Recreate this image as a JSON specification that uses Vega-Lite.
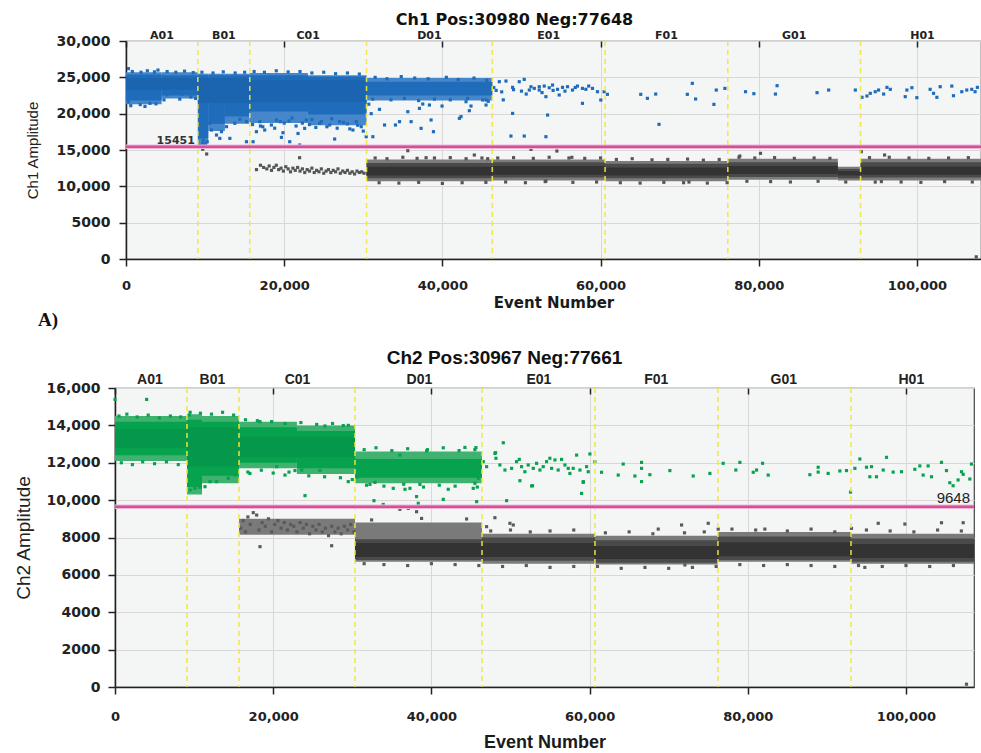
{
 "$schema": "https://vega.github.io/schema/vega-lite/v6.json",
 "background": "white",
 "padding": {"left": 14, "top": 10, "right": 0, "bottom": 0},
 "config": {"view": {"stroke": "#444444", "strokeWidth": 1.2, "fill": "#f4f6f5"}},
 "spacing": 16,
 "resolve": {"scale": {"x": "independent", "y": "independent", "color": "independent"}},
 "datasets": {
  "top_bands": [
   {"x0":0,"x1":4500,"y0":21300,"y1":25700,"c":"pos_fringe"},
   {"x0":4500,"x1":9085,"y0":22100,"y1":25700,"c":"pos_fringe"},
   {"x0":9085,"x1":10400,"y0":15900,"y1":25500,"c":"pos_fringe"},
   {"x0":10400,"x1":12500,"y0":17600,"y1":25500,"c":"pos_fringe"},
   {"x0":12500,"x1":15650,"y0":18600,"y1":25500,"c":"pos_fringe"},
   {"x0":15650,"x1":23000,"y0":18700,"y1":25600,"c":"pos_fringe"},
   {"x0":23000,"x1":30410,"y0":18400,"y1":25300,"c":"pos_fringe"},
   {"x0":30410,"x1":46310,"y0":21800,"y1":24900,"c":"pos_fringe"},
   {"x0":0,"x1":4500,"y0":21800,"y1":25400,"c":"pos_main"},
   {"x0":4500,"x1":9085,"y0":22500,"y1":25300,"c":"pos_main"},
   {"x0":9085,"x1":10400,"y0":16600,"y1":25300,"c":"pos_main"},
   {"x0":10400,"x1":12500,"y0":18600,"y1":25300,"c":"pos_main"},
   {"x0":12500,"x1":15650,"y0":19600,"y1":25300,"c":"pos_main"},
   {"x0":15650,"x1":23000,"y0":20300,"y1":25300,"c":"pos_main"},
   {"x0":23000,"x1":30410,"y0":19900,"y1":25100,"c":"pos_main"},
   {"x0":30410,"x1":46310,"y0":22500,"y1":24400,"c":"pos_main"},
   {"x0":0,"x1":9085,"y0":23300,"y1":24900,"c":"pos_core"},
   {"x0":9085,"x1":15650,"y0":21500,"y1":24900,"c":"pos_core"},
   {"x0":15650,"x1":30410,"y0":21600,"y1":24600,"c":"pos_core"},
   {"x0":30410,"x1":46310,"y0":10700,"y1":13700,"c":"neg_fringe"},
   {"x0":46310,"x1":60570,"y0":10800,"y1":13700,"c":"neg_fringe"},
   {"x0":60570,"x1":76090,"y0":10700,"y1":13500,"c":"neg_fringe"},
   {"x0":76090,"x1":90000,"y0":10900,"y1":13800,"c":"neg_fringe"},
   {"x0":90000,"x1":92870,"y0":10800,"y1":12700,"c":"neg_fringe"},
   {"x0":92870,"x1":108100,"y0":10800,"y1":13800,"c":"neg_fringe"},
   {"x0":30410,"x1":46310,"y0":11100,"y1":13200,"c":"neg_main"},
   {"x0":46310,"x1":60570,"y0":11200,"y1":13300,"c":"neg_main"},
   {"x0":60570,"x1":76090,"y0":11100,"y1":13100,"c":"neg_main"},
   {"x0":76090,"x1":90000,"y0":11300,"y1":13300,"c":"neg_main"},
   {"x0":90000,"x1":92870,"y0":11100,"y1":12400,"c":"neg_main"},
   {"x0":92870,"x1":108100,"y0":11200,"y1":13300,"c":"neg_main"},
   {"x0":30410,"x1":46310,"y0":11500,"y1":12700,"c":"neg_core"},
   {"x0":46310,"x1":60570,"y0":11600,"y1":12800,"c":"neg_core"},
   {"x0":60570,"x1":76090,"y0":11500,"y1":12600,"c":"neg_core"},
   {"x0":76090,"x1":90000,"y0":11700,"y1":12800,"c":"neg_core"},
   {"x0":90000,"x1":92870,"y0":11500,"y1":12100,"c":"neg_core"},
   {"x0":92870,"x1":108100,"y0":11600,"y1":12700,"c":"neg_core"}
  ],
  "top_points": [
   {"x":3030,"y":21420,"c":"pos"},{"x":5210,"y":22570,"c":"pos"},{"x":6060,"y":22800,"c":"pos"},{"x":7110,"y":22660,"c":"pos"},{"x":1140,"y":22340,"c":"pos"},{"x":290,"y":21650,"c":"pos"},{"x":300,"y":26200,"c":"pos"},{"x":4040,"y":26000,"c":"pos"},
   {"x":800,"y":25800,"c":"pos"},{"x":1900,"y":25700,"c":"pos"},{"x":2700,"y":25900,"c":"pos"},{"x":3600,"y":25750,"c":"pos"},{"x":5200,"y":25800,"c":"pos"},{"x":6300,"y":25700,"c":"pos"},{"x":7400,"y":25850,"c":"pos"},{"x":8500,"y":25650,"c":"pos"},
   {"x":600,"y":21100,"c":"pos"},{"x":1800,"y":21250,"c":"pos"},{"x":2400,"y":21000,"c":"pos"},{"x":3800,"y":21350,"c":"pos"},{"x":4800,"y":21900,"c":"pos"},{"x":6800,"y":22000,"c":"pos"},{"x":8200,"y":22300,"c":"pos"},{"x":8800,"y":22100,"c":"pos"},
   {"x":9600,"y":25700,"c":"pos"},{"x":11000,"y":25600,"c":"pos"},{"x":12300,"y":25750,"c":"pos"},{"x":13800,"y":25600,"c":"pos"},{"x":15000,"y":25700,"c":"pos"},
   {"x":16200,"y":25800,"c":"pos"},{"x":17500,"y":25700,"c":"pos"},{"x":19000,"y":25900,"c":"pos"},{"x":20500,"y":25750,"c":"pos"},{"x":22000,"y":25800,"c":"pos"},{"x":23500,"y":25600,"c":"pos"},{"x":25000,"y":25700,"c":"pos"},{"x":26500,"y":25500,"c":"pos"},{"x":28000,"y":25600,"c":"pos"},{"x":29500,"y":25450,"c":"pos"},
   {"x":16000,"y":18500,"c":"pos"},{"x":17300,"y":18200,"c":"pos"},{"x":18800,"y":18000,"c":"pos"},{"x":19500,"y":18900,"c":"pos"},{"x":20600,"y":19000,"c":"pos"},{"x":21500,"y":18300,"c":"pos"},{"x":22300,"y":18700,"c":"pos"},{"x":23200,"y":18500,"c":"pos"},{"x":24700,"y":18900,"c":"pos"},{"x":25400,"y":18200,"c":"pos"},{"x":26700,"y":18000,"c":"pos"},{"x":27500,"y":18800,"c":"pos"},{"x":28300,"y":17900,"c":"pos"},{"x":29300,"y":18400,"c":"pos"},{"x":30000,"y":17600,"c":"pos"},
   {"x":9340,"y":16830,"c":"pos"},{"x":9760,"y":17520,"c":"pos"},{"x":10260,"y":16140,"c":"pos"},{"x":10810,"y":17750,"c":"pos"},{"x":11440,"y":17060,"c":"pos"},{"x":11860,"y":16600,"c":"pos"},{"x":9550,"y":18440,"c":"pos"},{"x":10600,"y":18670,"c":"pos"},{"x":12070,"y":17520,"c":"pos"},{"x":12710,"y":18210,"c":"pos"},{"x":13130,"y":16600,"c":"pos"},{"x":13760,"y":18670,"c":"pos"},{"x":14390,"y":19220,"c":"pos"},{"x":15230,"y":18900,"c":"pos"},{"x":9760,"y":16370,"c":"pos"},{"x":9300,"y":15700,"c":"pos"},{"x":9700,"y":15900,"c":"pos"},{"x":10050,"y":15750,"c":"pos"},
   {"x":16490,"y":17520,"c":"pos"},{"x":17540,"y":17750,"c":"pos"},{"x":15230,"y":16140,"c":"pos"},{"x":16070,"y":16140,"c":"pos"},{"x":19850,"y":17380,"c":"pos"},{"x":20700,"y":16140,"c":"pos"},{"x":19650,"y":16740,"c":"pos"},{"x":21960,"y":15690,"c":"pos"},{"x":21750,"y":17270,"c":"pos"},{"x":26380,"y":16510,"c":"pos"},{"x":28690,"y":17750,"c":"pos"},{"x":29740,"y":18210,"c":"pos"},{"x":29110,"y":18900,"c":"pos"},{"x":24480,"y":18670,"c":"pos"},{"x":22590,"y":17980,"c":"pos"},{"x":18380,"y":18440,"c":"pos"},{"x":16910,"y":18900,"c":"pos"},{"x":19020,"y":19130,"c":"pos"},{"x":22800,"y":19130,"c":"pos"},{"x":25750,"y":18440,"c":"pos"},{"x":27010,"y":18900,"c":"pos"},{"x":30370,"y":16830,"c":"pos"},{"x":17000,"y":18300,"c":"pos"},{"x":20000,"y":18700,"c":"pos"},{"x":23500,"y":19200,"c":"pos"},{"x":26000,"y":19300,"c":"pos"},{"x":28000,"y":18600,"c":"pos"},{"x":21000,"y":19400,"c":"pos"},{"x":24000,"y":18100,"c":"pos"},
   {"x":32050,"y":20590,"c":"pos"},{"x":35630,"y":20270,"c":"pos"},{"x":32690,"y":18440,"c":"pos"},{"x":34070,"y":18440,"c":"pos"},{"x":34580,"y":18900,"c":"pos"},{"x":36050,"y":18900,"c":"pos"},{"x":37310,"y":17980,"c":"pos"},{"x":38570,"y":19130,"c":"pos"},{"x":38870,"y":17520,"c":"pos"},{"x":31210,"y":16830,"c":"pos"},{"x":42150,"y":19360,"c":"pos"},{"x":42360,"y":19590,"c":"pos"},{"x":43410,"y":20410,"c":"pos"},{"x":43620,"y":21050,"c":"pos"},{"x":39960,"y":21050,"c":"pos"},{"x":38360,"y":21190,"c":"pos"},{"x":37520,"y":21330,"c":"pos"},{"x":37100,"y":20730,"c":"pos"},{"x":42990,"y":21650,"c":"pos"},{"x":45520,"y":21190,"c":"pos"},{"x":45090,"y":21880,"c":"pos"},{"x":30700,"y":21300,"c":"pos"},{"x":31000,"y":20000,"c":"pos"},
   {"x":31500,"y":25000,"c":"pos"},{"x":33000,"y":24800,"c":"pos"},{"x":34800,"y":25100,"c":"pos"},{"x":36500,"y":24900,"c":"pos"},{"x":38200,"y":24800,"c":"pos"},{"x":40500,"y":25000,"c":"pos"},{"x":42000,"y":24700,"c":"pos"},{"x":44000,"y":24900,"c":"pos"},{"x":45600,"y":24600,"c":"pos"},{"x":31200,"y":22000,"c":"pos"},{"x":33500,"y":21900,"c":"pos"},{"x":35200,"y":22100,"c":"pos"},{"x":37000,"y":21800,"c":"pos"},{"x":39000,"y":22000,"c":"pos"},{"x":41000,"y":21900,"c":"pos"},{"x":43200,"y":22100,"c":"pos"},{"x":45800,"y":21700,"c":"pos"},
   {"x":47200,"y":24400,"c":"pos"},{"x":48040,"y":24490,"c":"pos"},{"x":48880,"y":23620,"c":"pos"},{"x":49720,"y":24400,"c":"pos"},{"x":50350,"y":24720,"c":"pos"},{"x":50990,"y":23250,"c":"pos"},{"x":51620,"y":23480,"c":"pos"},{"x":52250,"y":23710,"c":"pos"},{"x":52880,"y":23800,"c":"pos"},{"x":53510,"y":23570,"c":"pos"},{"x":53930,"y":23940,"c":"pos"},{"x":54560,"y":23350,"c":"pos"},{"x":55190,"y":23620,"c":"pos"},{"x":55820,"y":23710,"c":"pos"},{"x":56450,"y":23250,"c":"pos"},{"x":57080,"y":23800,"c":"pos"},{"x":57710,"y":23480,"c":"pos"},{"x":58140,"y":23350,"c":"pos"},{"x":58980,"y":23480,"c":"pos"},{"x":59610,"y":23020,"c":"pos"},{"x":60450,"y":23020,"c":"pos"},{"x":48880,"y":20040,"c":"pos"},{"x":53300,"y":19810,"c":"pos"},{"x":48670,"y":16920,"c":"pos"},{"x":50350,"y":16920,"c":"pos"},{"x":53090,"y":16830,"c":"pos"},{"x":57710,"y":21420,"c":"pos"},{"x":60030,"y":21880,"c":"pos"},{"x":45520,"y":21880,"c":"pos"},{"x":52250,"y":23250,"c":"pos"},{"x":54770,"y":22570,"c":"pos"},{"x":53090,"y":22340,"c":"pos"},
   {"x":46500,"y":23600,"c":"pos"},{"x":46800,"y":23200,"c":"pos"},{"x":47500,"y":23000,"c":"pos"},{"x":49000,"y":23300,"c":"pos"},{"x":50000,"y":23100,"c":"pos"},{"x":51200,"y":23700,"c":"pos"},{"x":52600,"y":22900,"c":"pos"},{"x":54000,"y":23200,"c":"pos"},{"x":55500,"y":23100,"c":"pos"},{"x":56800,"y":23600,"c":"pos"},{"x":58500,"y":23800,"c":"pos"},{"x":47700,"y":21900,"c":"pos"},{"x":50600,"y":22700,"c":"pos"},
   {"x":60870,"y":22660,"c":"pos"},{"x":65080,"y":22660,"c":"pos"},{"x":65920,"y":22110,"c":"pos"},{"x":66970,"y":22700,"c":"pos"},{"x":67390,"y":18530,"c":"pos"},{"x":70970,"y":22660,"c":"pos"},{"x":71600,"y":24170,"c":"pos"},{"x":72020,"y":22020,"c":"pos"},{"x":74330,"y":21280,"c":"pos"},{"x":74630,"y":23250,"c":"pos"},{"x":75720,"y":23480,"c":"pos"},
   {"x":78330,"y":23020,"c":"pos"},{"x":79380,"y":22750,"c":"pos"},{"x":82110,"y":22700,"c":"pos"},{"x":82320,"y":23850,"c":"pos"},{"x":87370,"y":22890,"c":"pos"},{"x":88840,"y":23250,"c":"pos"},{"x":92210,"y":23250,"c":"pos"},
   {"x":93050,"y":22250,"c":"pos"},{"x":93680,"y":22430,"c":"pos"},{"x":94100,"y":22800,"c":"pos"},{"x":94730,"y":23020,"c":"pos"},{"x":95150,"y":23250,"c":"pos"},{"x":95790,"y":22700,"c":"pos"},{"x":96210,"y":23620,"c":"pos"},{"x":96630,"y":23350,"c":"pos"},{"x":98520,"y":22340,"c":"pos"},{"x":98730,"y":23250,"c":"pos"},{"x":99360,"y":23570,"c":"pos"},{"x":99990,"y":22200,"c":"pos"},{"x":101670,"y":23350,"c":"pos"},{"x":102100,"y":22800,"c":"pos"},{"x":102520,"y":22250,"c":"pos"},{"x":102940,"y":23710,"c":"pos"},{"x":104410,"y":23800,"c":"pos"},{"x":104620,"y":22470,"c":"pos"},{"x":105670,"y":23020,"c":"pos"},{"x":106300,"y":23250,"c":"pos"},{"x":106930,"y":23350,"c":"pos"},{"x":107350,"y":23020,"c":"pos"},{"x":107640,"y":23620,"c":"pos"},
   {"x":9700,"y":15100,"c":"neg"},{"x":10200,"y":14450,"c":"neg"},{"x":21950,"y":13940,"c":"neg"},
   {"x":16500,"y":12300,"c":"neg"},{"x":17000,"y":12900,"c":"neg"},{"x":17400,"y":12600,"c":"neg"},{"x":17800,"y":12400,"c":"neg"},{"x":18100,"y":12800,"c":"neg"},{"x":18400,"y":12200,"c":"neg"},{"x":18700,"y":12600,"c":"neg"},{"x":19000,"y":12900,"c":"neg"},{"x":19300,"y":12300,"c":"neg"},{"x":19600,"y":12500,"c":"neg"},{"x":19900,"y":12100,"c":"neg"},{"x":20200,"y":12700,"c":"neg"},{"x":20500,"y":12400,"c":"neg"},{"x":20800,"y":12000,"c":"neg"},{"x":21100,"y":12500,"c":"neg"},{"x":21400,"y":12200,"c":"neg"},{"x":21700,"y":12600,"c":"neg"},{"x":22000,"y":12100,"c":"neg"},{"x":22300,"y":12400,"c":"neg"},{"x":22600,"y":11900,"c":"neg"},{"x":22900,"y":12300,"c":"neg"},{"x":23200,"y":12100,"c":"neg"},{"x":23500,"y":12500,"c":"neg"},{"x":23800,"y":11900,"c":"neg"},{"x":24100,"y":12200,"c":"neg"},{"x":24400,"y":12000,"c":"neg"},{"x":24700,"y":12400,"c":"neg"},{"x":25000,"y":11800,"c":"neg"},{"x":25300,"y":12100,"c":"neg"},{"x":25600,"y":12300,"c":"neg"},{"x":25900,"y":11900,"c":"neg"},{"x":26200,"y":12200,"c":"neg"},{"x":26500,"y":12000,"c":"neg"},{"x":26800,"y":12400,"c":"neg"},{"x":27100,"y":11800,"c":"neg"},{"x":27400,"y":12100,"c":"neg"},{"x":27700,"y":11900,"c":"neg"},{"x":28000,"y":12200,"c":"neg"},{"x":28300,"y":11800,"c":"neg"},{"x":28600,"y":12000,"c":"neg"},{"x":28900,"y":11700,"c":"neg"},{"x":29200,"y":12100,"c":"neg"},{"x":29500,"y":11900,"c":"neg"},{"x":29800,"y":12000,"c":"neg"},{"x":30100,"y":11800,"c":"neg"},
   {"x":35630,"y":14900,"c":"neg"},{"x":37940,"y":13940,"c":"neg"},{"x":44040,"y":14310,"c":"neg"},{"x":45730,"y":13800,"c":"neg"},{"x":51200,"y":15090,"c":"neg"},{"x":54480,"y":14860,"c":"neg"},{"x":56370,"y":13990,"c":"neg"},{"x":77610,"y":14170,"c":"neg"},{"x":80220,"y":14540,"c":"neg"},{"x":92970,"y":14770,"c":"neg"},{"x":95910,"y":14310,"c":"neg"},{"x":53090,"y":10730,"c":"neg"},{"x":94730,"y":10590,"c":"neg"},{"x":71180,"y":10590,"c":"neg"},{"x":107500,"y":300,"c":"neg"},
   {"x":31500,"y":13900,"c":"neg"},{"x":33000,"y":13800,"c":"neg"},{"x":35000,"y":14000,"c":"neg"},{"x":36800,"y":13850,"c":"neg"},{"x":39000,"y":13900,"c":"neg"},{"x":41000,"y":13950,"c":"neg"},{"x":43000,"y":13800,"c":"neg"},{"x":45000,"y":13900,"c":"neg"},{"x":47000,"y":13900,"c":"neg"},{"x":49000,"y":13950,"c":"neg"},{"x":51500,"y":13850,"c":"neg"},{"x":53500,"y":14000,"c":"neg"},{"x":56000,"y":13900,"c":"neg"},{"x":58000,"y":13850,"c":"neg"},{"x":60000,"y":13900,"c":"neg"},{"x":62000,"y":13700,"c":"neg"},{"x":64000,"y":13800,"c":"neg"},{"x":66500,"y":13650,"c":"neg"},{"x":68500,"y":13700,"c":"neg"},{"x":71000,"y":13750,"c":"neg"},{"x":73000,"y":13600,"c":"neg"},{"x":75000,"y":13700,"c":"neg"},{"x":77500,"y":14000,"c":"neg"},{"x":79500,"y":13900,"c":"neg"},{"x":82000,"y":13950,"c":"neg"},{"x":84500,"y":13850,"c":"neg"},{"x":87000,"y":13900,"c":"neg"},{"x":89000,"y":13850,"c":"neg"},{"x":94000,"y":13950,"c":"neg"},{"x":96500,"y":14000,"c":"neg"},{"x":99000,"y":13900,"c":"neg"},{"x":101500,"y":13850,"c":"neg"},{"x":104000,"y":13900,"c":"neg"},{"x":106500,"y":13950,"c":"neg"},
   {"x":32000,"y":10500,"c":"neg"},{"x":34500,"y":10450,"c":"neg"},{"x":37000,"y":10550,"c":"neg"},{"x":40000,"y":10400,"c":"neg"},{"x":42500,"y":10500,"c":"neg"},{"x":45500,"y":10550,"c":"neg"},{"x":48000,"y":10600,"c":"neg"},{"x":50500,"y":10500,"c":"neg"},{"x":53000,"y":10650,"c":"neg"},{"x":56500,"y":10550,"c":"neg"},{"x":59500,"y":10600,"c":"neg"},{"x":62500,"y":10500,"c":"neg"},{"x":65000,"y":10450,"c":"neg"},{"x":68000,"y":10550,"c":"neg"},{"x":70500,"y":10500,"c":"neg"},{"x":73500,"y":10450,"c":"neg"},{"x":76000,"y":10500,"c":"neg"},{"x":78500,"y":10700,"c":"neg"},{"x":81500,"y":10650,"c":"neg"},{"x":84000,"y":10600,"c":"neg"},{"x":87500,"y":10700,"c":"neg"},{"x":91000,"y":10600,"c":"neg"},{"x":95500,"y":10650,"c":"neg"},{"x":98000,"y":10600,"c":"neg"},{"x":100500,"y":10550,"c":"neg"},{"x":103500,"y":10650,"c":"neg"},{"x":107000,"y":10600,"c":"neg"}
  ],
  "bot_bands": [
   {"x0":0,"x1":9100,"y0":12100,"y1":14500,"c":"pos_fringe"},
   {"x0":9100,"x1":11000,"y0":10300,"y1":14600,"c":"pos_fringe"},
   {"x0":11000,"x1":15680,"y0":10900,"y1":14500,"c":"pos_fringe"},
   {"x0":15680,"x1":23000,"y0":11700,"y1":14200,"c":"pos_fringe"},
   {"x0":23000,"x1":30340,"y0":11400,"y1":14000,"c":"pos_fringe"},
   {"x0":30340,"x1":46400,"y0":10900,"y1":12600,"c":"pos_fringe"},
   {"x0":0,"x1":9100,"y0":12400,"y1":14200,"c":"pos_main"},
   {"x0":9100,"x1":11000,"y0":10700,"y1":14300,"c":"pos_main"},
   {"x0":11000,"x1":15680,"y0":11300,"y1":14200,"c":"pos_main"},
   {"x0":15680,"x1":23000,"y0":12000,"y1":13900,"c":"pos_main"},
   {"x0":23000,"x1":30340,"y0":11700,"y1":13700,"c":"pos_main"},
   {"x0":30340,"x1":46400,"y0":11200,"y1":12200,"c":"pos_main"},
   {"x0":0,"x1":9100,"y0":12800,"y1":13800,"c":"pos_core"},
   {"x0":9100,"x1":15680,"y0":11800,"y1":13900,"c":"pos_core"},
   {"x0":15680,"x1":30340,"y0":12300,"y1":13400,"c":"pos_core"},
   {"x0":15680,"x1":30340,"y0":8150,"y1":9000,"c":"neg_fringe"},
   {"x0":30340,"x1":46400,"y0":6700,"y1":8800,"c":"neg_fringe"},
   {"x0":46400,"x1":60680,"y0":6600,"y1":8200,"c":"neg_fringe"},
   {"x0":60680,"x1":76230,"y0":6550,"y1":8100,"c":"neg_fringe"},
   {"x0":76230,"x1":93050,"y0":6700,"y1":8300,"c":"neg_fringe"},
   {"x0":93050,"x1":108600,"y0":6600,"y1":8200,"c":"neg_fringe"},
   {"x0":30340,"x1":46400,"y0":6800,"y1":7900,"c":"neg_main"},
   {"x0":46400,"x1":60680,"y0":6750,"y1":8000,"c":"neg_main"},
   {"x0":60680,"x1":76230,"y0":6650,"y1":7850,"c":"neg_main"},
   {"x0":76230,"x1":93050,"y0":6800,"y1":8050,"c":"neg_main"},
   {"x0":93050,"x1":108600,"y0":6700,"y1":7950,"c":"neg_main"},
   {"x0":30340,"x1":46400,"y0":6950,"y1":7700,"c":"neg_core"},
   {"x0":46400,"x1":60680,"y0":6950,"y1":7700,"c":"neg_core"},
   {"x0":60680,"x1":76230,"y0":6850,"y1":7550,"c":"neg_core"},
   {"x0":76230,"x1":93050,"y0":7000,"y1":7750,"c":"neg_core"},
   {"x0":93050,"x1":108600,"y0":6900,"y1":7650,"c":"neg_core"}
  ],
  "bot_points": [
   {"x":0,"y":15390,"c":"pos"},{"x":4000,"y":15390,"c":"pos"},{"x":9400,"y":14550,"c":"pos"},
   {"x":500,"y":14500,"c":"pos"},{"x":1500,"y":14600,"c":"pos"},{"x":2800,"y":14450,"c":"pos"},{"x":4200,"y":14550,"c":"pos"},{"x":5600,"y":14400,"c":"pos"},{"x":7000,"y":14500,"c":"pos"},{"x":8300,"y":14450,"c":"pos"},
   {"x":800,"y":12000,"c":"pos"},{"x":2200,"y":11900,"c":"pos"},{"x":3500,"y":12050,"c":"pos"},{"x":5000,"y":11950,"c":"pos"},{"x":6500,"y":12050,"c":"pos"},{"x":8000,"y":11900,"c":"pos"},
   {"x":9500,"y":14700,"c":"pos"},{"x":10800,"y":14650,"c":"pos"},{"x":12200,"y":14600,"c":"pos"},{"x":13600,"y":14700,"c":"pos"},{"x":15000,"y":14550,"c":"pos"},
   {"x":16500,"y":14300,"c":"pos"},{"x":18000,"y":14250,"c":"pos"},{"x":19800,"y":14200,"c":"pos"},{"x":21500,"y":14100,"c":"pos"},{"x":23500,"y":14150,"c":"pos"},{"x":25500,"y":14050,"c":"pos"},{"x":27500,"y":14100,"c":"pos"},{"x":29500,"y":14000,"c":"pos"},
   {"x":16800,"y":11500,"c":"pos"},{"x":18500,"y":11600,"c":"pos"},{"x":20000,"y":11450,"c":"pos"},{"x":22000,"y":11500,"c":"pos"},{"x":24500,"y":11300,"c":"pos"},{"x":26500,"y":11250,"c":"pos"},{"x":28500,"y":11200,"c":"pos"},{"x":30000,"y":11100,"c":"pos"},
   {"x":31500,"y":12700,"c":"pos"},{"x":33000,"y":12800,"c":"pos"},{"x":35000,"y":12650,"c":"pos"},{"x":37000,"y":12750,"c":"pos"},{"x":39500,"y":12700,"c":"pos"},{"x":41500,"y":12800,"c":"pos"},{"x":43500,"y":12650,"c":"pos"},{"x":45500,"y":12700,"c":"pos"},
   {"x":31800,"y":10800,"c":"pos"},{"x":34000,"y":10750,"c":"pos"},{"x":36500,"y":10850,"c":"pos"},{"x":39000,"y":10700,"c":"pos"},{"x":41000,"y":10800,"c":"pos"},{"x":43000,"y":10750,"c":"pos"},{"x":45800,"y":10700,"c":"pos"},
   {"x":9480,"y":10540,"c":"pos"},{"x":10110,"y":10630,"c":"pos"},{"x":10740,"y":10680,"c":"pos"},{"x":11380,"y":10720,"c":"pos"},{"x":12010,"y":10990,"c":"pos"},{"x":12850,"y":10990,"c":"pos"},{"x":14320,"y":11170,"c":"pos"},{"x":15170,"y":11340,"c":"pos"},{"x":9690,"y":10900,"c":"pos"},
   {"x":17060,"y":11430,"c":"pos"},{"x":21490,"y":11340,"c":"pos"},{"x":22750,"y":11580,"c":"pos"},{"x":23600,"y":11610,"c":"pos"},{"x":25910,"y":11580,"c":"pos"},{"x":20440,"y":11790,"c":"pos"},{"x":24020,"y":10240,"c":"pos"},{"x":29490,"y":10990,"c":"pos"},{"x":30550,"y":11220,"c":"pos"},{"x":18330,"y":14200,"c":"pos"},{"x":26540,"y":13970,"c":"pos"},{"x":28860,"y":13990,"c":"pos"},
   {"x":32230,"y":10840,"c":"pos"},{"x":32860,"y":10950,"c":"pos"},{"x":35180,"y":10630,"c":"pos"},{"x":36660,"y":10580,"c":"pos"},{"x":37290,"y":10630,"c":"pos"},{"x":38550,"y":10840,"c":"pos"},{"x":38130,"y":10190,"c":"pos"},{"x":38340,"y":9830,"c":"pos"},{"x":32740,"y":9970,"c":"pos"},{"x":33910,"y":9770,"c":"pos"},{"x":42130,"y":10580,"c":"pos"},{"x":41500,"y":10040,"c":"pos"},{"x":45290,"y":10630,"c":"pos"},{"x":45720,"y":9920,"c":"pos"},{"x":45500,"y":10900,"c":"pos"},{"x":45930,"y":11170,"c":"pos"},{"x":44240,"y":12820,"c":"pos"},{"x":45630,"y":12810,"c":"pos"},{"x":48120,"y":12540,"c":"pos"},{"x":39390,"y":12630,"c":"pos"},{"x":36020,"y":12410,"c":"pos"},{"x":51190,"y":11040,"c":"pos"},{"x":52790,"y":10770,"c":"pos"},{"x":59200,"y":10950,"c":"pos"},{"x":60040,"y":12470,"c":"pos"},{"x":61510,"y":11490,"c":"pos"},
   {"x":46560,"y":12060,"c":"pos"},{"x":46980,"y":11790,"c":"pos"},{"x":48030,"y":12500,"c":"pos"},{"x":48160,"y":12240,"c":"pos"},{"x":49090,"y":13070,"c":"pos"},{"x":48660,"y":11880,"c":"pos"},{"x":49300,"y":11610,"c":"pos"},{"x":50140,"y":11700,"c":"pos"},{"x":50770,"y":12060,"c":"pos"},{"x":51110,"y":12180,"c":"pos"},{"x":51400,"y":11790,"c":"pos"},{"x":51820,"y":11520,"c":"pos"},{"x":52240,"y":11880,"c":"pos"},{"x":52670,"y":10760,"c":"pos"},{"x":52880,"y":11700,"c":"pos"},{"x":53300,"y":11970,"c":"pos"},{"x":53720,"y":11610,"c":"pos"},{"x":54140,"y":11790,"c":"pos"},{"x":54560,"y":12060,"c":"pos"},{"x":54980,"y":12240,"c":"pos"},{"x":55200,"y":11700,"c":"pos"},{"x":55620,"y":12150,"c":"pos"},{"x":56030,"y":11610,"c":"pos"},{"x":56460,"y":12180,"c":"pos"},{"x":56880,"y":11880,"c":"pos"},{"x":57300,"y":11700,"c":"pos"},{"x":57510,"y":11430,"c":"pos"},{"x":57930,"y":11700,"c":"pos"},{"x":58360,"y":12410,"c":"pos"},{"x":58780,"y":11610,"c":"pos"},{"x":58990,"y":10360,"c":"pos"},{"x":59200,"y":10990,"c":"pos"},{"x":59620,"y":11790,"c":"pos"},{"x":59830,"y":11520,"c":"pos"},{"x":60670,"y":12060,"c":"pos"},
   {"x":63620,"y":11340,"c":"pos"},{"x":64250,"y":11930,"c":"pos"},{"x":65730,"y":11290,"c":"pos"},{"x":66570,"y":12020,"c":"pos"},{"x":66570,"y":11700,"c":"pos"},{"x":66570,"y":10990,"c":"pos"},{"x":67620,"y":11360,"c":"pos"},{"x":70150,"y":11580,"c":"pos"},{"x":73100,"y":11290,"c":"pos"},{"x":75210,"y":11430,"c":"pos"},{"x":76890,"y":11970,"c":"pos"},{"x":78490,"y":11610,"c":"pos"},{"x":79000,"y":12020,"c":"pos"},{"x":80690,"y":11490,"c":"pos"},{"x":81110,"y":11610,"c":"pos"},{"x":81870,"y":11970,"c":"pos"},{"x":82580,"y":11340,"c":"pos"},{"x":87850,"y":11360,"c":"pos"},{"x":88900,"y":11760,"c":"pos"},{"x":88900,"y":11500,"c":"pos"},{"x":90160,"y":11430,"c":"pos"},{"x":91640,"y":11560,"c":"pos"},{"x":92480,"y":11580,"c":"pos"},{"x":92990,"y":10430,"c":"pos"},{"x":93540,"y":11700,"c":"pos"},{"x":94170,"y":12200,"c":"pos"},{"x":95010,"y":11760,"c":"pos"},{"x":95430,"y":11250,"c":"pos"},{"x":95640,"y":11790,"c":"pos"},{"x":96270,"y":11250,"c":"pos"},{"x":97120,"y":11610,"c":"pos"},{"x":97540,"y":12290,"c":"pos"},{"x":98380,"y":11500,"c":"pos"},{"x":99430,"y":11520,"c":"pos"},{"x":101120,"y":11650,"c":"pos"},{"x":101750,"y":11830,"c":"pos"},{"x":102170,"y":11340,"c":"pos"},{"x":102800,"y":11830,"c":"pos"},{"x":103230,"y":11250,"c":"pos"},{"x":104490,"y":12020,"c":"pos"},{"x":105120,"y":11580,"c":"pos"},{"x":105540,"y":10930,"c":"pos"},{"x":105960,"y":10770,"c":"pos"},{"x":106590,"y":11080,"c":"pos"},{"x":107020,"y":11520,"c":"pos"},{"x":107230,"y":11380,"c":"pos"},{"x":108070,"y":11130,"c":"pos"},{"x":108280,"y":11930,"c":"pos"},{"x":49510,"y":9970,"c":"pos"},
   {"x":15900,"y":8500,"c":"neg"},{"x":16200,"y":8900,"c":"neg"},{"x":16500,"y":8300,"c":"neg"},{"x":16800,"y":9100,"c":"neg"},{"x":17100,"y":8700,"c":"neg"},{"x":17480,"y":9330,"c":"neg"},{"x":17910,"y":9200,"c":"neg"},{"x":18200,"y":8400,"c":"neg"},{"x":18600,"y":8800,"c":"neg"},{"x":19000,"y":8600,"c":"neg"},{"x":19400,"y":9000,"c":"neg"},{"x":19800,"y":8300,"c":"neg"},{"x":20200,"y":8700,"c":"neg"},{"x":20600,"y":8900,"c":"neg"},{"x":21000,"y":8500,"c":"neg"},{"x":21400,"y":8800,"c":"neg"},{"x":21800,"y":8400,"c":"neg"},{"x":22200,"y":8700,"c":"neg"},{"x":22600,"y":8600,"c":"neg"},{"x":23000,"y":8300,"c":"neg"},{"x":23400,"y":8800,"c":"neg"},{"x":23800,"y":8500,"c":"neg"},{"x":24200,"y":8700,"c":"neg"},{"x":24600,"y":8200,"c":"neg"},{"x":25000,"y":8600,"c":"neg"},{"x":25400,"y":8400,"c":"neg"},{"x":25800,"y":8700,"c":"neg"},{"x":26200,"y":8300,"c":"neg"},{"x":26600,"y":8500,"c":"neg"},{"x":27000,"y":8100,"c":"neg"},{"x":27400,"y":8600,"c":"neg"},{"x":27800,"y":8300,"c":"neg"},{"x":28200,"y":8500,"c":"neg"},{"x":28600,"y":8200,"c":"neg"},{"x":29000,"y":8600,"c":"neg"},{"x":29400,"y":8400,"c":"neg"},{"x":29800,"y":8700,"c":"neg"},{"x":30200,"y":8300,"c":"neg"},
   {"x":18330,"y":7510,"c":"neg"},{"x":27390,"y":7560,"c":"neg"},{"x":48030,"y":9060,"c":"neg"},{"x":49930,"y":8760,"c":"neg"},{"x":50350,"y":8670,"c":"neg"},{"x":68680,"y":8450,"c":"neg"},{"x":71630,"y":8670,"c":"neg"},{"x":75000,"y":8760,"c":"neg"},{"x":82160,"y":8450,"c":"neg"},{"x":96490,"y":8760,"c":"neg"},{"x":99860,"y":8720,"c":"neg"},{"x":104490,"y":8790,"c":"neg"},{"x":107230,"y":8790,"c":"neg"},{"x":46980,"y":8580,"c":"neg"},{"x":93110,"y":8490,"c":"neg"},{"x":76260,"y":8450,"c":"neg"},{"x":32440,"y":8940,"c":"neg"},{"x":36020,"y":9510,"c":"neg"},{"x":37080,"y":9560,"c":"neg"},{"x":38130,"y":9380,"c":"neg"},{"x":38760,"y":9020,"c":"neg"},{"x":44450,"y":8990,"c":"neg"},{"x":107650,"y":150,"c":"neg"},{"x":72050,"y":6530,"c":"neg"},{"x":94800,"y":6400,"c":"neg"},
   {"x":47500,"y":8350,"c":"neg"},{"x":50000,"y":8400,"c":"neg"},{"x":52500,"y":8300,"c":"neg"},{"x":55000,"y":8350,"c":"neg"},{"x":58000,"y":8400,"c":"neg"},{"x":62000,"y":8250,"c":"neg"},{"x":65000,"y":8300,"c":"neg"},{"x":68000,"y":8200,"c":"neg"},{"x":72000,"y":8250,"c":"neg"},{"x":74500,"y":8300,"c":"neg"},{"x":78000,"y":8450,"c":"neg"},{"x":81000,"y":8400,"c":"neg"},{"x":85000,"y":8350,"c":"neg"},{"x":88000,"y":8450,"c":"neg"},{"x":91000,"y":8300,"c":"neg"},{"x":95000,"y":8400,"c":"neg"},{"x":98000,"y":8350,"c":"neg"},{"x":101000,"y":8300,"c":"neg"},{"x":104000,"y":8400,"c":"neg"},{"x":107000,"y":8350,"c":"neg"},
   {"x":31500,"y":6600,"c":"neg"},{"x":34000,"y":6550,"c":"neg"},{"x":37000,"y":6500,"c":"neg"},{"x":40000,"y":6600,"c":"neg"},{"x":43000,"y":6550,"c":"neg"},{"x":46000,"y":6500,"c":"neg"},{"x":49000,"y":6450,"c":"neg"},{"x":52000,"y":6500,"c":"neg"},{"x":55000,"y":6400,"c":"neg"},{"x":58000,"y":6450,"c":"neg"},{"x":61000,"y":6450,"c":"neg"},{"x":64000,"y":6350,"c":"neg"},{"x":67000,"y":6400,"c":"neg"},{"x":70000,"y":6350,"c":"neg"},{"x":73000,"y":6400,"c":"neg"},{"x":76000,"y":6450,"c":"neg"},{"x":79000,"y":6550,"c":"neg"},{"x":82000,"y":6500,"c":"neg"},{"x":85000,"y":6550,"c":"neg"},{"x":88000,"y":6500,"c":"neg"},{"x":91000,"y":6450,"c":"neg"},{"x":94000,"y":6500,"c":"neg"},{"x":97000,"y":6450,"c":"neg"},{"x":100000,"y":6500,"c":"neg"},{"x":103000,"y":6450,"c":"neg"},{"x":106000,"y":6500,"c":"neg"}
  ],
  "wells_top": [
   {"well":"A01","start":0,"mid":4540},{"well":"B01","start":9085,"mid":12370},{"well":"C01","start":15650,"mid":23030},{"well":"D01","start":30410,"mid":38360},
   {"well":"E01","start":46310,"mid":53440},{"well":"F01","start":60570,"mid":68330},{"well":"G01","start":76090,"mid":84480},{"well":"H01","start":92870,"mid":100700}
  ],
  "wells_bot": [
   {"well":"A01","start":0,"mid":4420},{"well":"B01","start":9100,"mid":12320},{"well":"C01","start":15680,"mid":23070},{"well":"D01","start":30340,"mid":38490},
   {"well":"E01","start":46400,"mid":53590},{"well":"F01","start":60680,"mid":68440},{"well":"G01","start":76230,"mid":84560},{"well":"H01","start":93050,"mid":100680}
  ]
 },
 "vconcat": [
  {
   "spacing": -91,
   "hconcat": [
    {
     "width": 1, "height": 1,
     "view": {"stroke": null, "fill": null},
     "data": {"values": [{}]},
     "mark": {"type": "point", "size": 1, "opacity": 0, "filled": true, "strokeWidth": 0},
     "encoding": {}
    },
    {
     "width": 855, "height": 218,
     "title": {"text": "A)", "orient": "bottom", "anchor": "start", "frame": "bounds", "font": "Liberation Serif", "fontSize": 19, "fontWeight": "bold", "color": "#111111", "offset": 1, "dx": 12},
     "resolve": {"axis": {"x": "independent"}},
     "layer": [
      {
       "data": {"name": "top_bands"},
       "mark": {"type": "rect"},
       "encoding": {
        "x": {"field": "x0", "type": "quantitative", "scale": {"domain": [0, 108100], "nice": false, "zero": false},
              "axis": {"orient": "bottom", "tickCount": 5, "labelExpr": "format(datum.value, ',')", "labelFlush": false, "labelOverlap": false,
                       "tickSize": 7, "tickWidth": 1.5, "tickColor": "#222222", "labelPadding": 13,
                       "labelFont": "DejaVu Sans", "labelFontSize": 13, "labelFontWeight": "bold", "labelColor": "#222222",
                       "domainColor": "#222222", "domainWidth": 1.5, "grid": true, "gridColor": "#d8d8d8",
                       "title": "Event Number", "titleFont": "DejaVu Sans", "titleFontSize": 15, "titleFontWeight": "bold", "titleColor": "#1a1a1a", "titlePadding": 3}},
        "x2": {"field": "x1"},
        "y": {"field": "y0", "type": "quantitative", "scale": {"domain": [0, 30000], "nice": false},
              "axis": {"tickCount": 6, "labelExpr": "datum.value >= 10000 ? format(datum.value, ',') : format(datum.value, 'd')",
                       "labelFlush": false, "labelOverlap": false, "tickSize": 7, "tickWidth": 1.5, "tickColor": "#222222", "labelPadding": 9,
                       "labelFont": "DejaVu Sans", "labelFontSize": 14, "labelFontWeight": "bold", "labelColor": "#222222",
                       "domainColor": "#222222", "domainWidth": 1.5, "grid": true, "gridColor": "#d8d8d8",
                       "title": "Ch1 Amplitude", "titleFont": "Liberation Sans", "titleFontSize": 15, "titleFontWeight": "normal", "titleColor": "#222222", "titlePadding": 15}},
        "y2": {"field": "y1"},
        "color": {"field": "c", "type": "nominal", "legend": null,
                  "scale": {"domain": ["pos_fringe", "pos_main", "pos_core", "neg_fringe", "neg_main", "neg_core", "pos", "neg"],
                            "range": ["#4587ca", "#1f6cba", "#1a64b0", "#7c7c7c", "#4a4a4a", "#333333", "#1e6bbb", "#555555"]}}
       }
      },
      {
       "data": {"name": "top_points"},
       "mark": {"type": "square", "size": 10, "opacity": 1},
       "encoding": {
        "x": {"field": "x", "type": "quantitative", "scale": {"domain": [0, 108100], "nice": false, "zero": false}, "axis": null},
        "y": {"field": "y", "type": "quantitative", "scale": {"domain": [0, 30000], "nice": false}},
        "color": {"field": "c", "type": "nominal", "legend": null,
                  "scale": {"domain": ["pos_fringe", "pos_main", "pos_core", "neg_fringe", "neg_main", "neg_core", "pos", "neg"],
                            "range": ["#4587ca", "#1f6cba", "#1a64b0", "#7c7c7c", "#4a4a4a", "#333333", "#1e6bbb", "#555555"]}}
       }
      },
      {
       "data": {"name": "wells_top"},
       "transform": [{"filter": "datum.start > 0"}],
       "mark": {"type": "rule", "color": "#f3e53c", "strokeDash": [5, 4], "strokeWidth": 1.6, "opacity": 0.9},
       "encoding": {
        "x": {"field": "start", "type": "quantitative", "scale": {"domain": [0, 108100], "nice": false, "zero": false},
              "axis": {"orient": "top", "tickCount": 5, "labels": false, "grid": false, "domain": false,
                       "tickSize": -6, "tickWidth": 1.5, "tickColor": "#222222",
                       "title": "Ch1 Pos:30980 Neg:77648", "titleX": 388, "titleY": -17, "titleAlign": "center", "titleBaseline": "alphabetic",
                       "titleFont": "DejaVu Sans", "titleFontSize": 16, "titleFontWeight": "bold", "titleColor": "#111111"}}
       }
      },
      {
       "data": {"values": [{"thr": 15451}]},
       "mark": {"type": "rule", "color": "#eeb6d3", "strokeWidth": 4.5},
       "encoding": {"y": {"field": "thr", "type": "quantitative", "scale": {"domain": [0, 30000], "nice": false}}}
      },
      {
       "data": {"values": [{"thr": 15451}]},
       "mark": {"type": "rule", "color": "#d64f9c", "strokeWidth": 2.5},
       "encoding": {"y": {"field": "thr", "type": "quantitative", "scale": {"domain": [0, 30000], "nice": false}}}
      },
      {
       "data": {"values": [{"thr": 15451}]},
       "mark": {"type": "text", "align": "right", "baseline": "alphabetic", "dx": -3, "dy": -3, "font": "DejaVu Sans", "fontSize": 11, "fontWeight": "bold", "color": "#333333"},
       "encoding": {
        "x": {"datum": 9085, "type": "quantitative", "scale": {"domain": [0, 108100], "nice": false, "zero": false}, "axis": null},
        "y": {"field": "thr", "type": "quantitative", "scale": {"domain": [0, 30000], "nice": false}},
        "text": {"field": "thr", "type": "nominal"}
       }
      },
      {
       "data": {"name": "wells_top"},
       "mark": {"type": "text", "align": "center", "baseline": "alphabetic", "dy": -2, "font": "DejaVu Sans", "fontSize": 11, "fontWeight": "bold", "color": "#222222"},
       "encoding": {
        "x": {"field": "mid", "type": "quantitative", "scale": {"domain": [0, 108100], "nice": false, "zero": false}, "axis": null},
        "y": {"datum": 30000, "type": "quantitative", "scale": {"domain": [0, 30000], "nice": false}},
        "text": {"field": "well", "type": "nominal"}
       }
      }
     ]
    }
   ]
  },
  {
   "width": 859, "height": 299,
   "resolve": {"axis": {"x": "independent"}},
   "layer": [
    {
     "data": {"name": "bot_bands"},
     "mark": {"type": "rect"},
     "encoding": {
      "x": {"field": "x0", "type": "quantitative", "scale": {"domain": [0, 108600], "nice": false, "zero": false},
            "axis": {"orient": "bottom", "tickCount": 5, "labelExpr": "format(datum.value, ',')", "labelFlush": false, "labelOverlap": false,
                     "tickSize": 7, "tickWidth": 1.5, "tickColor": "#222222", "labelPadding": 16,
                     "labelFont": "DejaVu Sans", "labelFontSize": 13, "labelFontWeight": "bold", "labelColor": "#222222",
                     "domainColor": "#222222", "domainWidth": 1.5, "grid": true, "gridColor": "#d8d8d8",
                     "title": "Event Number", "titleFont": "Liberation Sans", "titleFontSize": 18, "titleFontWeight": "bold", "titleColor": "#1a1a1a", "titlePadding": 10}},
      "x2": {"field": "x1"},
      "y": {"field": "y0", "type": "quantitative", "scale": {"domain": [0, 16000], "nice": false},
            "axis": {"tickCount": 8, "labelExpr": "datum.value >= 10000 ? format(datum.value, ',') : format(datum.value, 'd')",
                     "labelFlush": false, "labelOverlap": false, "tickSize": 7, "tickWidth": 1.5, "tickColor": "#222222", "labelPadding": 8,
                     "labelFont": "DejaVu Sans", "labelFontSize": 14, "labelFontWeight": "bold", "labelColor": "#222222",
                     "domainColor": "#222222", "domainWidth": 1.5, "grid": true, "gridColor": "#d8d8d8",
                     "title": "Ch2 Amplitude", "titleFont": "Liberation Sans", "titleFontSize": 19, "titleFontWeight": "normal", "titleColor": "#222222", "titlePadding": 12}},
      "y2": {"field": "y1"},
      "color": {"field": "c", "type": "nominal", "legend": null,
                "scale": {"domain": ["pos_fringe", "pos_main", "pos_core", "neg_fringe", "neg_main", "neg_core", "pos", "neg"],
                          "range": ["#3fb270", "#07a24e", "#05984a", "#7a7a7a", "#4a4a4a", "#333333", "#07a24e", "#5a5a5a"]}}
     }
    },
    {
     "data": {"name": "bot_points"},
     "mark": {"type": "square", "size": 10, "opacity": 1},
     "encoding": {
      "x": {"field": "x", "type": "quantitative", "scale": {"domain": [0, 108600], "nice": false, "zero": false}, "axis": null},
      "y": {"field": "y", "type": "quantitative", "scale": {"domain": [0, 16000], "nice": false}},
      "color": {"field": "c", "type": "nominal", "legend": null,
                "scale": {"domain": ["pos_fringe", "pos_main", "pos_core", "neg_fringe", "neg_main", "neg_core", "pos", "neg"],
                          "range": ["#3fb270", "#07a24e", "#05984a", "#7a7a7a", "#4a4a4a", "#333333", "#07a24e", "#5a5a5a"]}}
     }
    },
    {
     "data": {"name": "wells_bot"},
     "transform": [{"filter": "datum.start > 0"}],
     "mark": {"type": "rule", "color": "#f3e53c", "strokeDash": [5, 4], "strokeWidth": 1.6, "opacity": 0.9},
     "encoding": {
      "x": {"field": "start", "type": "quantitative", "scale": {"domain": [0, 108600], "nice": false, "zero": false},
            "axis": {"orient": "top", "tickCount": 5, "labels": false, "grid": false, "domain": false,
                     "tickSize": -6, "tickWidth": 1.5, "tickColor": "#222222",
                     "title": "Ch2 Pos:30967 Neg:77661", "titleX": 389, "titleY": -25, "titleAlign": "center", "titleBaseline": "alphabetic",
                     "titleFont": "Liberation Sans", "titleFontSize": 19, "titleFontWeight": "bold", "titleColor": "#111111"}}
     }
    },
    {
     "data": {"values": [{"thr": 9648}]},
     "mark": {"type": "rule", "color": "#eeb6d3", "strokeWidth": 4.5},
     "encoding": {"y": {"field": "thr", "type": "quantitative", "scale": {"domain": [0, 16000], "nice": false}}}
    },
    {
     "data": {"values": [{"thr": 9648}]},
     "mark": {"type": "rule", "color": "#d64f9c", "strokeWidth": 2.5},
     "encoding": {"y": {"field": "thr", "type": "quantitative", "scale": {"domain": [0, 16000], "nice": false}}}
    },
    {
     "data": {"values": [{"thr": 9648}]},
     "mark": {"type": "text", "align": "right", "baseline": "alphabetic", "dy": -4, "font": "Liberation Sans", "fontSize": 15, "color": "#222222"},
     "encoding": {
      "x": {"datum": 108100, "type": "quantitative", "scale": {"domain": [0, 108600], "nice": false, "zero": false}, "axis": null},
      "y": {"field": "thr", "type": "quantitative", "scale": {"domain": [0, 16000], "nice": false}},
      "text": {"field": "thr", "type": "nominal"}
     }
    },
    {
     "data": {"name": "wells_bot"},
     "mark": {"type": "text", "align": "center", "baseline": "alphabetic", "dy": -4, "font": "Liberation Sans", "fontSize": 14, "fontWeight": "bold", "color": "#222222"},
     "encoding": {
      "x": {"field": "mid", "type": "quantitative", "scale": {"domain": [0, 108600], "nice": false, "zero": false}, "axis": null},
      "y": {"datum": 16000, "type": "quantitative", "scale": {"domain": [0, 16000], "nice": false}},
      "text": {"field": "well", "type": "nominal"}
     }
    }
   ]
  }
 ]
}
